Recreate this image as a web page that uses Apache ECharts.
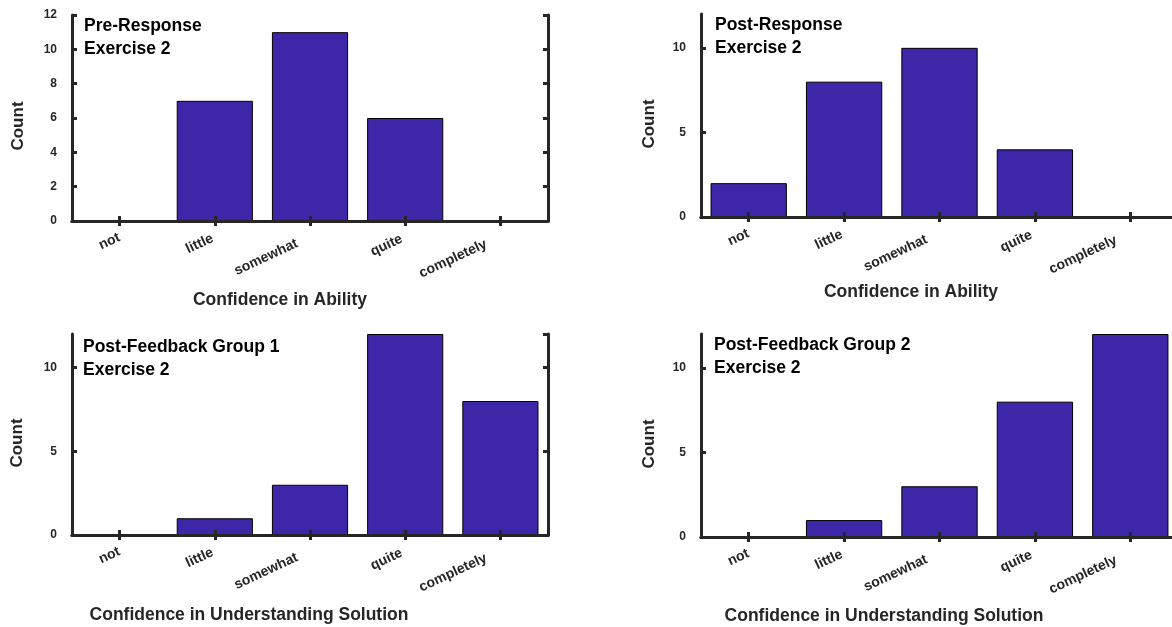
<!DOCTYPE html>
<html>
<head>
<meta charset="utf-8">
<script src="https://cdn.jsdelivr.net/npm/echarts@6/dist/echarts.min.js"></script>
<style>
html,body{margin:0;padding:0;background:#fff;}
#chart{width:1172px;height:627px;}
</style>
</head>
<body>
<div id="chart"></div>
<script>
// ---- data ----
var categories = ['not', 'little', 'somewhat', 'quite', 'completely'];
var preResponse = [0, 7, 11, 6, 0];
var postResponse = [2, 8, 10, 4, 0];
var postFeedback1 = [0, 1, 3, 12, 8];
var postFeedback2 = [0, 1, 3, 8, 12];
var panelTitles = ['Pre-Response\nExercise 2', 'Post-Response\nExercise 2', 'Post-Feedback Group 1\nExercise 2', 'Post-Feedback Group 2\nExercise 2'];
var xLabels = ['Confidence in Ability', 'Confidence in Ability', 'Confidence in Understanding Solution', 'Confidence in Understanding Solution'];
var yLabel = 'Count';
var yInterval = [2, 5, 5, 5];
var yMax = 12;

// ---- layout ----
var panels = [
  {grid: {left: 72, top: 15, width: 476, height: 206}, title: [84, 14.5], xname: [280, 300], yname: [18, 126]},
  {grid: {left: 701, top: 14, width: 477, height: 203}, title: [715, 13.5], xname: [911, 292], yname: [649, 124]},
  {grid: {left: 72, top: 334, width: 476, height: 201}, title: [83, 335.5], xname: [249, 615], yname: [17, 443]},
  {grid: {left: 701, top: 334, width: 477, height: 203}, title: [714, 333.5], xname: [884, 616], yname: [649, 444]}
];
var seriesData = [preResponse, postResponse, postFeedback1, postFeedback2];

var AX = '#262626';
var FONT = '"Liberation Sans", Arial, sans-serif';
var TICKFONT = 'bold 14px ' + FONT;

// per-label shift along the rotated baseline (longer labels sit further from the tick)
var ctx = document.createElement('canvas').getContext('2d');
ctx.font = TICKFONT;
var rich = {};
categories.forEach(function (c, k) {
  var L = ctx.measureText(c).width;
  rich['p' + k] = {padding: [0, Math.max(1, 0.3 * L - 3), 0, 0], fontSize: 14, fontWeight: 'bold', color: AX, fontFamily: FONT};
});

var grids = [], xAxes = [], yAxes = [], series = [], graphics = [];
panels.forEach(function (p, i) {
  var g = Object.assign({containLabel: false, outerBoundsMode: 'none'}, p.grid);
  grids.push(g);
  var lineStyle = {color: AX, width: 3};
  var tick = {show: true, inside: true, length: 5, alignWithLabel: true, lineStyle: {color: AX, width: 3}};
  xAxes.push({
    type: 'category', gridIndex: i, data: categories, position: 'bottom', z: 5,
    axisLine: {show: true, lineStyle: lineStyle},
    axisTick: tick,
    axisLabel: {rotate: 25, margin: 8, fontSize: 14, fontWeight: 'bold', color: AX, fontFamily: FONT, interval: 0,
      align: 'right', verticalAlign: 'top',
      formatter: function (v, k) { return '{p' + k + '|' + v + '}'; },
      rich: rich}
  });
  xAxes.push({
    type: 'category', gridIndex: i, data: categories, position: 'top', z: 5,
    axisLine: {show: true, lineStyle: lineStyle},
    axisTick: tick,
    axisLabel: {show: false}
  });
  var ytick = {show: true, inside: true, length: 5, lineStyle: {color: AX, width: 3}};
  yAxes.push({
    type: 'value', gridIndex: i, min: 0, max: yMax, interval: yInterval[i], position: 'left', z: 5,
    axisLine: {show: true, lineStyle: lineStyle},
    axisTick: ytick,
    splitLine: {show: false},
    axisLabel: {margin: 15, fontSize: 12, fontWeight: 'bold', color: AX, fontFamily: FONT, padding: [0, 0, 6, 0],
      showMaxLabel: yInterval[i] === 2}
  });
  yAxes.push({
    type: 'value', gridIndex: i, min: 0, max: yMax, interval: yInterval[i], position: 'right', z: 5,
    axisLine: {show: true, lineStyle: lineStyle},
    axisTick: ytick,
    splitLine: {show: false},
    axisLabel: {show: false}
  });
  series.push({
    type: 'bar', xAxisIndex: 2 * i, yAxisIndex: 2 * i, data: seriesData[i],
    barCategoryGap: '20%', z: 2,
    itemStyle: {color: '#3E26A8', borderColor: '#000', borderWidth: 1}
  });
  graphics.push({
    type: 'text', left: p.title[0], top: p.title[1], z: 10,
    style: {text: panelTitles[i], font: 'bold 17.5px ' + FONT, fill: '#000', lineHeight: 23}
  });
  graphics.push({
    type: 'text', x: p.xname[0], y: p.xname[1], z: 10,
    style: {text: xLabels[i], font: 'bold 17.5px ' + FONT, fill: AX, align: 'center', verticalAlign: 'middle'}
  });
  graphics.push({
    type: 'text', x: p.yname[0], y: p.yname[1], rotation: Math.PI / 2, z: 10,
    style: {text: yLabel, font: 'bold 17px ' + FONT, fill: AX, align: 'center', verticalAlign: 'middle'}
  });
});

var chart = echarts.init(document.getElementById('chart'), null, {renderer: 'canvas'});
chart.setOption({
  animation: false,
  backgroundColor: '#fff',
  grid: grids,
  xAxis: xAxes,
  yAxis: yAxes,
  series: series,
  graphic: graphics
});
</script>
</body>
</html>
